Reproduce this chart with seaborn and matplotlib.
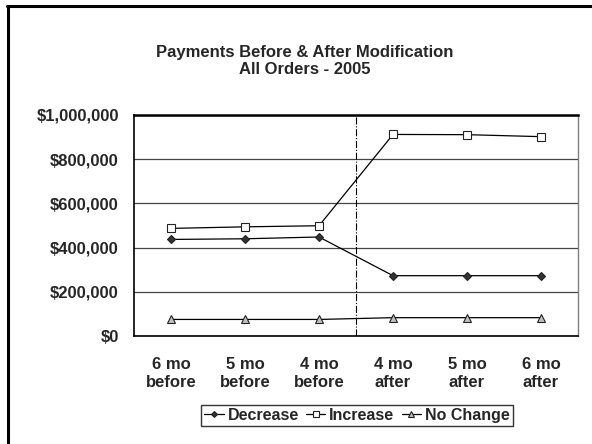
import matplotlib
matplotlib.use("Agg")
import matplotlib.pyplot as plt
import matplotlib.lines as mlines
import seaborn as sns
import pandas as pd
from matplotlib.ticker import FuncFormatter, FixedLocator

# data
periods = ["6 mo\nbefore", "5 mo\nbefore", "4 mo\nbefore", "4 mo\nafter", "5 mo\nafter", "6 mo\nafter"]
decrease = [437000, 440000, 448000, 273000, 273000, 273000]
increase = [487000, 494000, 499000, 912000, 911000, 902000]
no_change = [75000, 75000, 75000, 83000, 83000, 83000]
series_names = ["Decrease", "Increase", "No Change"]

sns.set_theme(style="white")
plt.rcParams['font.family'] = ['Liberation Sans', 'DejaVu Sans']
plt.rcParams['font.weight'] = 'bold'

rows = []
for name, vals in zip(series_names, [decrease, increase, no_change]):
    for i, v in enumerate(vals):
        rows.append({"pos": i, "Series": name, "Value": v})
df = pd.DataFrame(rows)

fig = plt.figure(figsize=(5.92, 4.44), dpi=100)
ax = fig.add_axes([0.2264, 0.2432, 0.75, 0.4978])

marker_map = {"Decrease": "D", "Increase": "s", "No Change": "^"}
face_map = {"Decrease": "#333333", "Increase": "#ffffff", "No Change": "#c0c0c0"}
size_map = {"Decrease": 4.5, "Increase": 6, "No Change": 5.5}

for name in series_names:
    sub = df[df["Series"] == name]
    sns.lineplot(data=sub, x="pos", y="Value", ax=ax, color="black", linewidth=0.9,
                 marker=marker_map[name], markersize=size_map[name],
                 markerfacecolor=face_map[name], markeredgecolor="#222222",
                 markeredgewidth=0.8, legend=False)

ax.set_xlim(-0.5, 5.5)
ax.set_ylim(0, 1000000)
ax.yaxis.set_major_locator(FixedLocator([0, 200000, 400000, 600000, 800000, 1000000]))
ax.yaxis.set_major_formatter(FuncFormatter(lambda v, p: f"${v:,.0f}"))
ax.grid(axis="y", color="#444444", linewidth=0.9)
ax.set_axisbelow(True)

ax.set_xticks([i - 0.5 for i in range(len(periods) + 1)])
ax.set_xticklabels([])
ax.set_xticks(range(len(periods)), minor=True)
ax.set_xticklabels(periods, minor=True, fontsize=12, fontweight="bold", linespacing=1.3)
ax.tick_params(axis="x", which="major", direction="out", length=5, width=1, color="black")
ax.tick_params(axis="x", which="minor", length=0, pad=15)
ax.tick_params(axis="y", direction="out", length=5, width=1, color="black",
               labelsize=12, pad=6)
for lab in ax.get_yticklabels():
    lab.set_fontweight("bold")

ax.axvline(2.5, color="black", linestyle="-.", linewidth=0.8)

ax.set_xlabel("")
ax.set_ylabel("")
for s in ["left", "bottom"]:
    ax.spines[s].set_color("black")
    ax.spines[s].set_linewidth(1.2)
ax.spines["top"].set_color("black")
ax.spines["top"].set_linewidth(1.8)
ax.spines["right"].set_color("#808080")
ax.spines["right"].set_linewidth(1.0)

fig.text(0.514, 0.862, "Payments Before & After Modification\nAll Orders - 2005",
         ha="center", va="center", fontsize=12, fontweight="bold", linespacing=1.2)

handles = [mlines.Line2D([], [], color="black", linewidth=0.9, marker=marker_map[n],
                         markersize=size_map[n] - 1.5, markerfacecolor=face_map[n],
                         markeredgecolor="#222222", markeredgewidth=0.8) for n in series_names]
leg = fig.legend(handles, series_names, loc="center", bbox_to_anchor=(0.603, 0.064),
                 ncol=3, frameon=True, fancybox=False, handlelength=1.2, handletextpad=0.25,
                 columnspacing=0.45, borderpad=0.2, borderaxespad=0,
                 prop={"size": 11.5, "weight": "bold"})
leg.get_frame().set_edgecolor("black")
leg.get_frame().set_linewidth(1.0)

# outer chart border (left and top only are visible)
fig.add_artist(mlines.Line2D([0.0135, 0.0135], [0, 0.987], color="black", linewidth=2.2,
                             transform=fig.transFigure))
fig.add_artist(mlines.Line2D([0.0125, 1.0], [0.987, 0.987], color="black", linewidth=2.2,
                             transform=fig.transFigure))

fig.savefig("out.png", dpi=100)
